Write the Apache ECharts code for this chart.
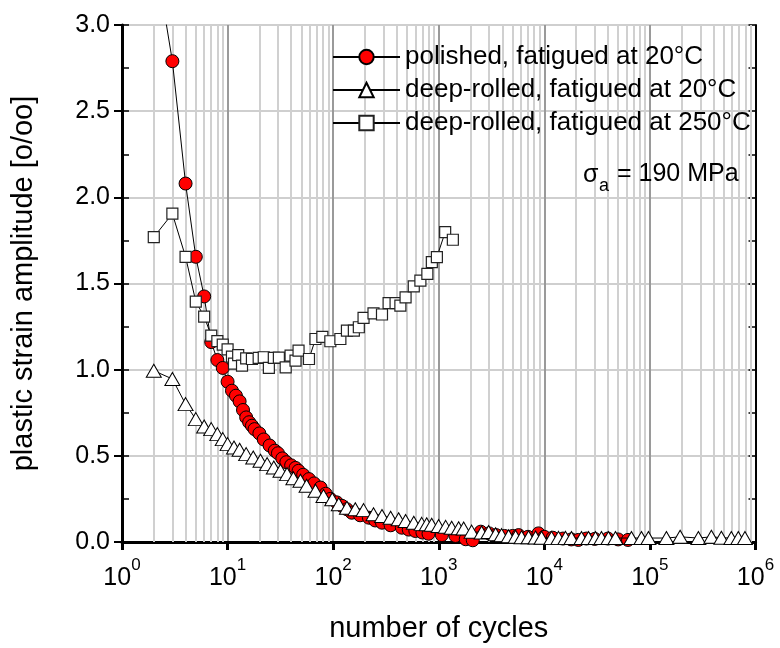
<!DOCTYPE html>
<html><head><meta charset="utf-8">
<script src="https://cdn.jsdelivr.net/npm/echarts@6/dist/echarts.min.js"></script>
<style>html,body{margin:0;padding:0;background:#fff}#c{width:780px;height:648px}</style>
</head><body><div id="c"></div>
<script>
// ---- data: [number of cycles, plastic strain amplitude (o/oo)] ----
const polished = [
  [2,3.45],[3,2.79],[4,2.08],[5,1.655],[6,1.425],[7,1.16],[8,1.056],[9,1.01],[10,0.93],
  [11,0.878],[12,0.849],[13,0.816],[14,0.766],[15,0.723],[16,0.695],[17,0.675],[18,0.655],
  [20,0.63],[22,0.595],[25,0.56],[28,0.53],[30,0.515],[33,0.485],[36,0.463],[40,0.445],
  [44,0.43],[47,0.413],[52,0.39],[59,0.365],[66,0.34],[76,0.316],[85,0.28],[94,0.25],
  [108,0.23],[121,0.21],[135,0.19],[150,0.17],[180,0.155],[218,0.141],[250,0.125],
  [290,0.112],[350,0.097],[447,0.083],[520,0.072],[600,0.064],[700,0.055],[800,0.048],
  [1070,0.04],[1440,0.035],[1800,0.016],[2100,0.01],[2500,0.06],[3000,0.05],[3500,0.04],
  [4200,0.035],[5000,0.035],[5700,0.04],[7000,0.03],[8800,0.05],[10000,0.03],[12000,0.025],
  [15000,0.02],[18000,0.015],[21000,0.012],[25000,0.02],[30000,0.018],[40000,0.02],
  [50000,0.015],[62000,0.012]
];
const deepRolled20 = [
  [2,0.994],[3,0.946],[4,0.80],[5,0.713],[6,0.67],[7,0.655],[8,0.626],[9,0.597],[10,0.568],
  [11.5,0.548],[13,0.535],[15,0.51],[17.5,0.49],[20.5,0.471],[23.7,0.452],[27.4,0.432],
  [31.7,0.413],[36.6,0.394],[42,0.37],[49,0.355],[56,0.326],[68,0.297],[81,0.267],[98,0.248],
  [113,0.219],[135,0.199],[162,0.19],[194,0.185],[241,0.161],[290,0.151],[350,0.141],
  [417,0.132],[485,0.122],[580,0.112],[689,0.105],[769,0.103],[857,0.1],[997,0.093],
  [1162,0.088],[1325,0.083],[1543,0.08],[1721,0.078],[2048,0.06],[2545,0.055],[2966,0.058],
  [3455,0.045],[3936,0.04],[4585,0.033],[5342,0.03],[6086,0.028],[7091,0.028],[8261,0.026],
  [9413,0.025],[11700,0.024],[13620,0.024],[15870,0.024],[18070,0.023],[22480,0.023],
  [26190,0.023],[30500,0.023],[34750,0.023],[40480,0.023],[47160,0.023],[66830,0.023],
  [83170,0.023],[96800,0.023],[143300,0.023],[193200,0.03],[287700,0.023],[382000,0.03],
  [475000,0.025],[590000,0.023],[687000,0.023],[794000,0.023]
];
const deepRolled250 = [
  [2,1.769],[3,1.905],[4,1.655],[5,1.395],[6,1.308],[7,1.198],[8,1.166],[9,1.145],[10,1.118],
  [11,1.076],[11.5,1.035],[12.6,1.084],[13.7,1.023],[15,1.066],[17,1.062],[19.7,1.068],
  [22,1.072],[24.6,1.01],[27.4,1.068],[30.6,1.07],[35.5,1.013],[39.5,1.081],[44,1.052],
  [47,1.11],[59,1.062],[68,1.178],[79,1.19],[94,1.165],[117,1.178],[135,1.227],[157,1.227],
  [175,1.246],[194,1.30],[241,1.327],[290,1.32],[335,1.386],[390,1.386],[433,1.372],
  [485,1.42],[580,1.483],[670,1.517],[780,1.556],[860,1.624],[960,1.653],[1150,1.798],
  [1360,1.754]
];
const seriesNames = ['polished, fatigued at 20°C','deep-rolled, fatigued at 20°C','deep-rolled, fatigued at 250°C'];
const xMin = 1, xMax = 1e6;
const yMin = 0, yMax = 3, yStep = 0.5;

// minor log grid positions (2..9 of each decade)
const minorX = [];
for (let e = 0; e < 6; e++) for (let m = 2; m <= 9; m++) minorX.push(m * Math.pow(10, e));

const FONT = 'Liberation Sans, Arial, sans-serif';
const chart = echarts.init(document.getElementById('c'), null, {renderer:'canvas'});
const baseLine = {color:'#000', width:1};
chart.setOption({
  animation:false,
  backgroundColor:'#fff',
  grid:{left:122, right:24.5, top:25, bottom:106, containLabel:false, outerBoundsMode:'none'},
  legend:{
    data: seriesNames, orient:'vertical', left:327, top:37, z:10,
    itemWidth:67, itemHeight:18, itemGap:3, selectedMode:false,
    textStyle:{fontSize:26, fontFamily:FONT, color:'#000', lineHeight:30}
  },
  xAxis:[{
    type:'log', logBase:10, min:xMin, max:xMax, position:'bottom',
    axisLine:{show:true, lineStyle:{color:'#000', width:3}},
    axisTick:{show:true, inside:false, length:8, lineStyle:{color:'#000', width:3}},
    splitLine:{show:true, lineStyle:{color:'#9a9a9a', width:2}},
    minorTick:{show:false}, minorSplitLine:{show:false},
    axisLabel:{margin:15, formatter:v=>'{b|10}{s|'+Math.round(Math.log10(v))+'}',
      rich:{b:{fontSize:25, fontFamily:FONT, color:'#000', verticalAlign:'bottom', lineHeight:34},
            s:{fontSize:17, fontFamily:FONT, color:'#000', verticalAlign:'top', lineHeight:20}}},
    name:'number of cycles', nameLocation:'middle', nameGap:72, nameMoveOverlap:false,
    nameTextStyle:{fontSize:29, fontFamily:FONT, color:'#000'}
  },{
    type:'log', logBase:10, min:xMin, max:xMax, position:'top',
    axisLine:{show:true, lineStyle:{color:'#000', width:2}},
    axisTick:{show:false}, axisLabel:{show:false}, splitLine:{show:false}
  }],
  yAxis:[{
    type:'value', min:yMin, max:yMax, interval:yStep, position:'left',
    axisLine:{show:true, lineStyle:{color:'#000', width:3}},
    axisTick:{show:true, inside:false, length:8, lineStyle:{color:'#000', width:2}},
    splitLine:{show:true, lineStyle:{color:'#cfcfcf', width:2}},
    axisLabel:{margin:12, fontSize:25, fontFamily:FONT, color:'#000', formatter:v=>v.toFixed(1)},
    name:'plastic strain amplitude [o/oo]', nameLocation:'middle', nameGap:84, nameMoveOverlap:false,
    nameTextStyle:{fontSize:29, fontFamily:FONT, color:'#000'}
  },{
    type:'value', min:yMin, max:yMax, interval:yStep/2, position:'right',
    axisLine:{show:true, lineStyle:{color:'#000', width:2}},
    axisTick:{show:true, inside:true, length:7, lineStyle:{color:'#000', width:1.5}},
    axisLabel:{show:false}, splitLine:{show:false}
  },{
    type:'value', min:yMin, max:yMax, interval:yStep/2, position:'left',
    axisLine:{show:false},
    axisTick:{show:true, inside:true, length:7, lineStyle:{color:'#000', width:1.5}},
    axisLabel:{show:false}, splitLine:{show:false}
  }],
  graphic:[
    {type:'text', left:583, top:163, silent:true, z:10, style:{text:'σ', font:'25px '+FONT, fill:'#000'}},
    {type:'text', left:599, top:177, silent:true, z:10, style:{text:'a', font:'18px '+FONT, fill:'#000'}},
    {type:'text', left:617, top:162, silent:true, z:10, style:{text:'= 190 MPa', font:'25px '+FONT, fill:'#000'}}
  ],
  series:[
    {type:'line', data:[], silent:true, z:1,
     markLine:{silent:true, z:1, symbol:'none', animation:false, label:{show:false}, emphasis:{disabled:true},
       lineStyle:{color:'#d0d0d0', width:2, type:'solid'}, data:minorX.map(v=>({xAxis:v}))}},
    {name:seriesNames[0], type:'line', data:polished, symbol:'circle', symbolSize:13, z:3,
     itemStyle:{color:'#ff0000', borderColor:'#000', borderWidth:1}, lineStyle:baseLine, emphasis:{disabled:true}},
    {name:seriesNames[1], type:'line', data:deepRolled20, symbol:'triangle', symbolSize:[15,13], z:4,
     itemStyle:{color:'#ffffff', borderColor:'#000', borderWidth:1}, lineStyle:baseLine, emphasis:{disabled:true}},
    {name:seriesNames[2], type:'line', data:deepRolled250, symbol:'rect', symbolSize:11, z:5,
     itemStyle:{color:'#ffffff', borderColor:'#222', borderWidth:1.2}, lineStyle:baseLine, emphasis:{disabled:true}}
  ]
});
</script></body></html>
